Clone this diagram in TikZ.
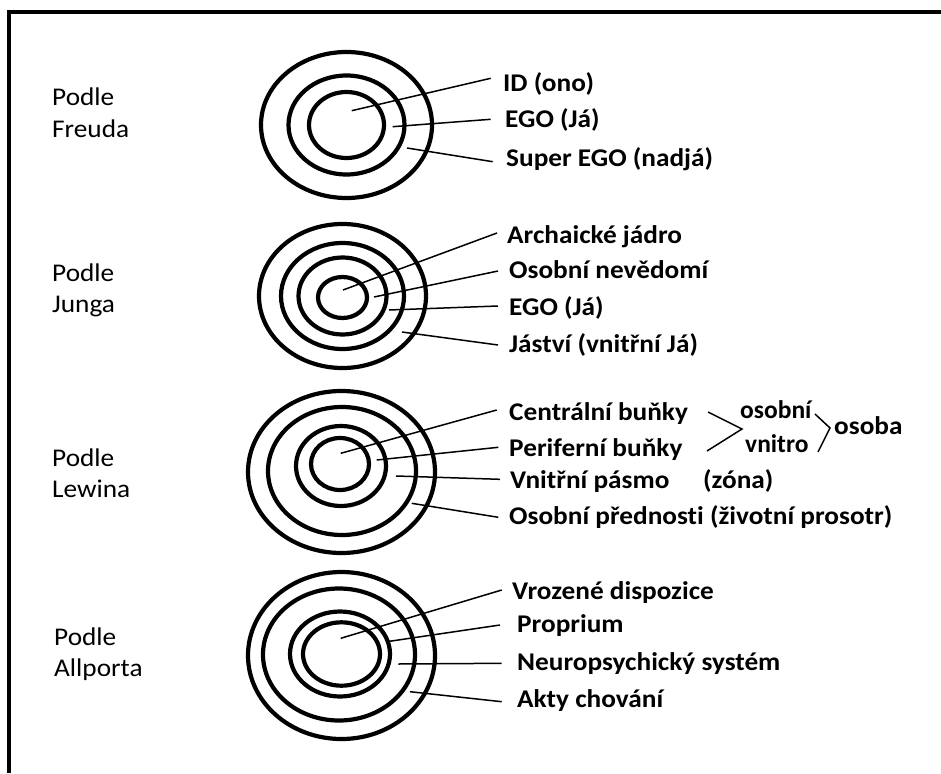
\documentclass[tikz,border=0pt]{standalone}
\usepackage{fontspec}
\setmainfont{Carlito}[Ligatures=NoCommon]
\newcommand{\sx}[1]{\scalebox{1.07}[1]{#1}}
\begin{document}
\begin{tikzpicture}[x=1pt,y=-1pt,
  ring/.style={line width=4.2pt},
  leader/.style={line width=1.5pt},
  frame/.style={line width=4.5pt},
  lab/.style={anchor=base west,inner sep=0pt,font=\fontsize{25.5}{31}\selectfont\bfseries},
  side/.style={anchor=base west,inner sep=0pt,font=\fontsize{25.5}{31}\selectfont},
]
\useasboundingbox (0,0) rectangle (941,773);
\fill[white] (0,0) rectangle (941,773);
% frame
\coordinate (frTL) at (9,12);
\coordinate (frTR) at (941,12);
\coordinate (frBL) at (9,773);
\draw[frame] (frTR) -- (frTL) -- (frBL);

% ---------------- Freud
\node[side] (f1) at (52,106) {\sx{Podle}};
\node[side] (f2) at (52,137) {\sx{Freuda}};
\coordinate (fc) at (346.5,125);
\draw[ring] (fc) ellipse [x radius=85.5, y radius=73];
\draw[ring] (fc) ellipse [x radius=58, y radius=49.5];
\draw[ring] (fc) ellipse [x radius=37.5, y radius=33];
\node[lab] (fl1) at (503,92) {\sx{ID (ono)}};
\node[lab] (fl2) at (505,127) {\sx{EGO (Já)}};
\node[lab] (fl3) at (506,166) {\sx{Super EGO (nadjá)}};
\coordinate (fs1) at (351.7,110.7); \coordinate (fe1) at (490.7,78.3);
\coordinate (fs2) at (392.7,126.7); \coordinate (fe2) at (490.7,119.3);
\coordinate (fs3) at (407,148);     \coordinate (fe3) at (492.7,161.7);
\draw[leader] (fs1) -- (fe1);
\draw[leader] (fs2) -- (fe2);
\draw[leader] (fs3) -- (fe3);

% ---------------- Jung
\node[side] (j1) at (52,281) {\sx{Podle}};
\node[side] (j2) at (52,312) {\sx{Junga}};
\coordinate (jc) at (342.5,296);
\draw[ring] (jc) ellipse [x radius=83.5, y radius=72];
\draw[ring] (jc) ellipse [x radius=61.5, y radius=53];
\draw[ring] (jc) ellipse [x radius=44, y radius=38.5];
\draw[ring] (342.5,297.5) ellipse [x radius=24.5, y radius=20.5];
\node[lab] (jl1) at (507,243) {\sx{Archaické jádro}};
\node[lab] (jl2) at (509,278) {\sx{Osobní nevědomí}};
\node[lab] (jl3) at (509,315) {\sx{EGO (Já)}};
\node[lab] (jl4) at (509,352) {\sx{Jáství (vnitřní Já)}};
\coordinate (js1) at (343,290); \coordinate (je1) at (497,233);
\coordinate (js2) at (374,297); \coordinate (je2) at (498,271);
\coordinate (js3) at (389,310); \coordinate (je3) at (498,306);
\coordinate (js4) at (402,332); \coordinate (je4) at (498,345);
\draw[leader] (js1) -- (je1);
\draw[leader] (js2) -- (je2);
\draw[leader] (js3) -- (je3);
\draw[leader] (js4) -- (je4);

% ---------------- Lewin
\node[side] (l1) at (52,466) {\sx{Podle}};
\node[side] (l2) at (52,497) {\sx{Lewina}};
\coordinate (lc) at (341.5,472);
\draw[ring] (lc) ellipse [x radius=93.5, y radius=81];
\draw[ring] (342,471) ellipse [x radius=74, y radius=64];
\draw[ring] (341,466) ellipse [x radius=45, y radius=40];
\draw[ring] (340,464) ellipse [x radius=29, y radius=26];
\node[lab] (ll1) at (509,420) {\sx{Centrální buňky}};
\node[lab] (ll2) at (509,456) {\sx{Periferní buňky}};
\node[lab] (ll3) at (510,488) {\sx{Vnitřní pásmo}};
\node[lab] (ll5) at (703,488) {\sx{(zóna)}};
\node[lab] (ll4) at (509,524) {\sx{Osobní přednosti (životní prosotr)}};
\node[lab] (lo1) at (740,418) {osobní};
\node[lab] (lo2) at (745,452) {vnitro};
\node[lab] (lo3) at (834,434) {\sx{osoba}};
\coordinate (ls1) at (340.7,453.3); \coordinate (le1) at (496.7,410);
\coordinate (ls2) at (376.7,460);   \coordinate (le2) at (498.3,447.3);
\coordinate (ls3) at (396,476);     \coordinate (le3) at (500,479.3);
\coordinate (ls4) at (411.7,503.3); \coordinate (le4) at (498.3,517.3);
\draw[leader] (ls1) -- (le1);
\draw[leader] (ls2) -- (le2);
\draw[leader] (ls3) -- (le3);
\draw[leader] (ls4) -- (le4);
% brackets
\coordinate (b1u) at (708,412); \coordinate (b1a) at (742,429); \coordinate (b1l) at (707,451);
\coordinate (b2u) at (815,414); \coordinate (b2a) at (830,428); \coordinate (b2l) at (818,452);
\draw[leader] (b1u) -- (b1a) -- (b1l);
\draw[leader] (b2u) -- (b2a) -- (b2l);

% ---------------- Allport
\node[side] (a1) at (54,645) {\sx{Podle}};
\node[side] (a2) at (54,676) {\sx{Allporta}};
\coordinate (ac) at (341.5,655.5);
\draw[ring] (ac) ellipse [x radius=93.5, y radius=83.5];
\draw[ring] (339,654.5) ellipse [x radius=76, y radius=66];
\draw[ring] (340,654) ellipse [x radius=50, y radius=42.5];
\draw[ring] (341.5,654) ellipse [x radius=38.5, y radius=31.7];
\node[lab] (al1) at (512,599) {\sx{Vrozené dispozice}};
\node[lab] (al2) at (517,632) {\sx{Proprium}};
\node[lab] (al3) at (517,670) {\sx{Neuropsychický systém}};
\node[lab] (al4) at (517,707) {\sx{Akty chování}};
\coordinate (as1) at (340.7,638.3); \coordinate (ae1) at (501.7,590);
\coordinate (as2) at (386.7,641.7); \coordinate (ae2) at (500,625);
\coordinate (as3) at (398.3,664);   \coordinate (ae3) at (501.7,663.3);
\coordinate (as4) at (410,691.7);   \coordinate (ae4) at (501.7,701.7);
\draw[leader] (as1) -- (ae1);
\draw[leader] (as2) -- (ae2);
\draw[leader] (as3) -- (ae3);
\draw[leader] (as4) -- (ae4);
\end{tikzpicture}
\end{document}
